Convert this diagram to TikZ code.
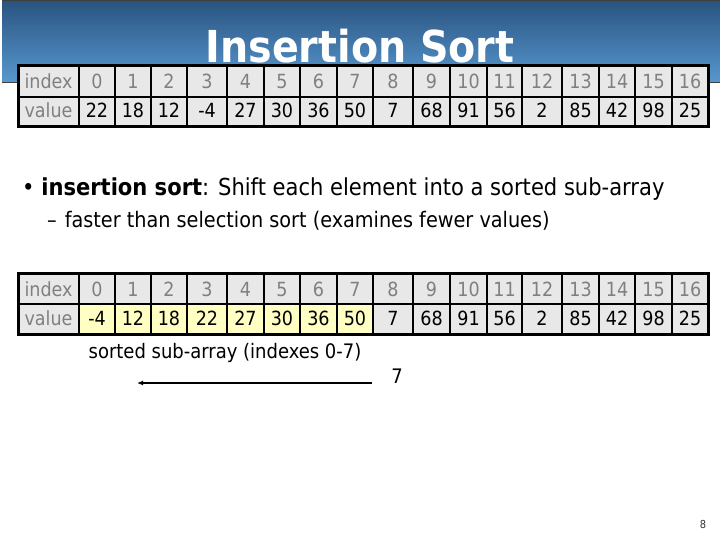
\documentclass[tikz,border=0pt]{standalone}
\usepackage{fontspec}
\setmainfont{DejaVu Sans Condensed}
\usepackage{tikz}
\usetikzlibrary{arrows.meta}

\definecolor{bannertop}{RGB}{42,84,128}
\definecolor{bannerbottom}{RGB}{88,152,208}
\definecolor{cellgray}{RGB}{232,232,232}
\definecolor{sortyellow}{RGB}{255,255,196}
\definecolor{indexgray}{RGB}{128,128,128}

\tikzset{
  cell/.style={draw=black, line width=1.5pt, fill=cellgray},
  sorted/.style={cell, fill=sortyellow},
  idx/.style={font=\fontsize{19.5}{19.5}\selectfont, text=indexgray, anchor=base},
  val/.style={font=\fontsize{19.5}{19.5}\selectfont, text=black, anchor=base},
}

\begin{document}
\begin{tikzpicture}[x=1pt, y=-1pt]

\useasboundingbox (0,0) rectangle (720,540);

% title bar
\shade[top color=bannertop, bottom color=bannerbottom] (2,1) rectangle (722,83);
\draw[color=black!75, line width=1] (722,1)--(2,1);
\draw[color=black!75, line width=1] (2,83)--(722,83);

\node[font=\fontsize{44}{44}\bfseries\selectfont, text=white, anchor=base] (title) at (360,63) {Insertion Sort};


% array before
\filldraw[cell] (18,66) rectangle (79,97);
\filldraw[cell] (18,97) rectangle (79,127);
\node[idx] (ihead1) at (48.5,89) {index};
\node[idx] (vhead1) at (48.5,118) {value};

\foreach \xa/\xb/\n/\v in {79/115/0/22, 115/151/1/18, 151/187/2/12, 187/227/3/-4,
         227/264/4/27, 264/300/5/30, 300/337/6/36, 337/373/7/50,
         373/413/8/7, 413/450/9/68, 450/487/10/91, 487/522/11/56,
         522/562/12/2, 562/599/13/85, 599/635/14/42, 635/672/15/98, 672/708/16/25}
{
	\filldraw[cell] (\xa,66) rectangle (\xb,97);
	\filldraw[cell] (\xa,97) rectangle (\xb,127);
	\node[idx] (ia\n) at ({(\xa+\xb)/2},89) {\n};
	\node[val] (va\n) at ({(\xa+\xb)/2},118) {\v};
}

\draw[line width=3] (18,66) rectangle (708,127);


% bullets
\node[anchor=base west, inner sep=0, font=\fontsize{23.4}{23.4}\selectfont] (point) at (22,196)
	{\textbullet\ \textbf{insertion sort}: Shift each element into a sorted sub-array};
\node[anchor=base west, inner sep=0, font=\fontsize{21.4}{21.4}\selectfont] (subpoint) at (47,228)
	{–\hspace{8pt}faster than selection sort (examines fewer values)};


% array after
\filldraw[cell] (18,273) rectangle (79,304);
\filldraw[cell] (18,304) rectangle (79,334);
\node[idx] (ihead2) at (48.5,296) {index};
\node[idx] (vhead2) at (48.5,325) {value};

\foreach \xa/\xb/\n/\v/\s in {79/115/0/-4/sorted, 115/151/1/12/sorted, 151/187/2/18/sorted, 187/227/3/22/sorted,
         227/264/4/27/sorted, 264/300/5/30/sorted, 300/337/6/36/sorted, 337/373/7/50/sorted,
         373/413/8/7/cell, 413/450/9/68/cell, 450/487/10/91/cell, 487/522/11/56/cell,
         522/562/12/2/cell, 562/599/13/85/cell, 599/635/14/42/cell, 635/672/15/98/cell, 672/708/16/25/cell}
{
	\filldraw[cell] (\xa,273) rectangle (\xb,304);
	\filldraw[\s] (\xa,304) rectangle (\xb,334);
	\node[idx] (ib\n) at ({(\xa+\xb)/2},296) {\n};
	\node[val] (vb\n) at ({(\xa+\xb)/2},325) {\v};
}

\draw[line width=3] (18,273) rectangle (708,334);


\node[anchor=base, font=\fontsize{20}{20}\selectfont] (sortedlabel) at (225,358) {sorted sub-array (indexes 0-7)};

\coordinate (arrowtail) at (372,383);
\coordinate (arrowtip) at (137,383);
\draw[-{Latex[length=6pt,width=5pt]}, line width=1.5] (arrowtail)--(arrowtip);

\node[anchor=base, font=\fontsize{20}{20}\selectfont] (moving) at (397,383) {7};

\node[anchor=base, font=\fontsize{11}{11}\selectfont, text=black!80] (pagenum) at (703,528) {8};

\end{tikzpicture}
\end{document}
